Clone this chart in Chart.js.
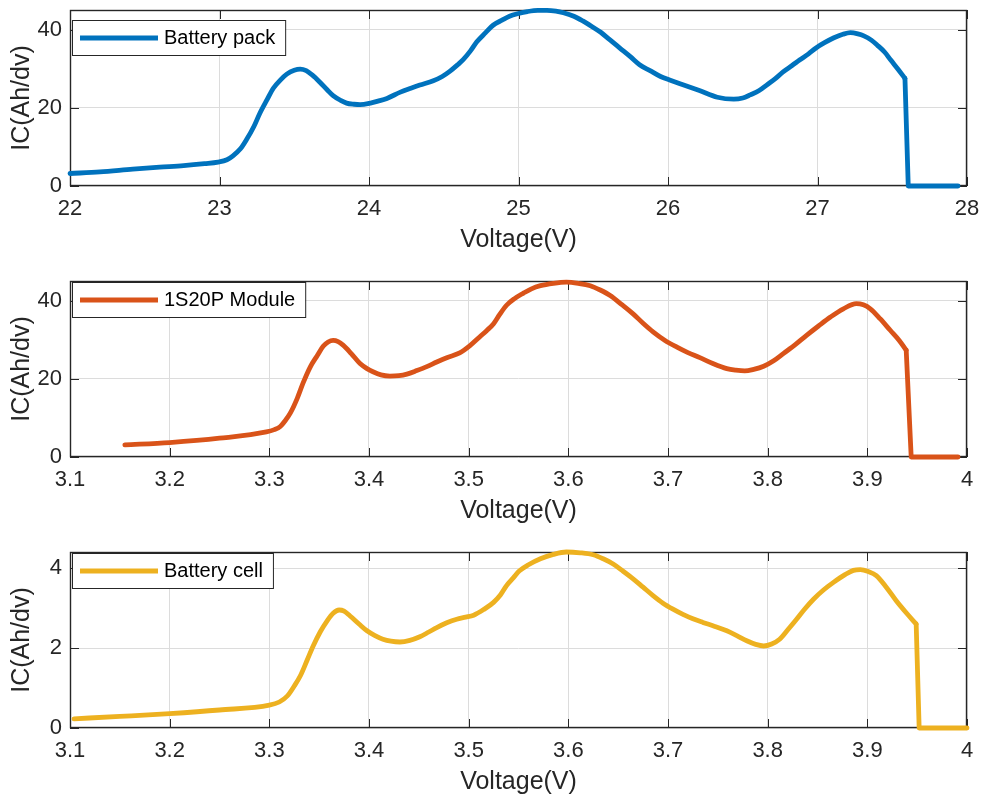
<!DOCTYPE html>
<html><head><meta charset="utf-8">
<script src="https://cdn.jsdelivr.net/npm/chart.js@4.4.1/dist/chart.umd.min.js"></script>
<style>
html,body{margin:0;padding:0;background:#fff;overflow:hidden;}
#wrap{position:relative;width:985px;height:796px;overflow:hidden;background:#fff;}
canvas{position:absolute;left:0;}
</style></head><body>
<div id="wrap">
<canvas id="c1" width="985" height="271" style="top:0px"></canvas>
<canvas id="c2" width="985" height="271" style="top:271px"></canvas>
<canvas id="c3" width="985" height="271" style="top:542px"></canvas>
</div>
<script>
// ---------- data ----------
const packLabel = 'Battery pack';
const packV = [22.00,22.20,22.42,22.60,22.76,22.90,22.99,23.05,23.09,23.14,23.18,23.23,23.27,23.32,23.36,23.41,23.45,23.50,23.54,23.58,23.62,23.67,23.72,23.76,23.81,23.85,23.90,23.94,24.01,24.06,24.12,24.21,24.28,24.34,24.43,24.49,24.54,24.59,24.63,24.68,24.72,24.78,24.83,24.89,24.94,25.00,25.06,25.13,25.19,25.25,25.30,25.37,25.43,25.49,25.55,25.61,25.68,25.75,25.81,25.88,25.95,26.02,26.10,26.21,26.33,26.44,26.50,26.55,26.61,26.66,26.72,26.77,26.83,26.88,26.94,26.99,27.05,27.11,27.17,27.22,27.27,27.31,27.36,27.40,27.45,27.49,27.54,27.585,27.607,27.94];
const packIC = [3.2,3.6,4.3,4.8,5.2,5.7,6.1,6.7,7.7,9.5,11.8,15.2,18.6,22.2,25.0,27.2,28.6,29.6,29.9,29.5,28.4,26.6,24.6,23.1,21.9,21.2,20.9,20.8,21.2,21.7,22.4,24.0,25.0,25.8,26.9,28.0,29.3,30.9,32.3,34.6,36.8,39.2,41.1,42.4,43.4,44.1,44.6,44.9,44.9,44.7,44.3,43.4,42.2,40.8,39.3,37.4,35.2,33.0,31.0,29.5,28.0,27.0,25.9,24.4,22.7,22.2,22.5,23.3,24.4,25.8,27.5,29.2,30.8,32.2,33.8,35.3,36.7,37.9,38.8,39.2,38.9,38.4,37.3,36.0,34.2,32.2,29.8,27.5,0,0];

const moduleLabel = '1S20P Module';
const moduleV = [3.155,3.20,3.25,3.297,3.305,3.311,3.316,3.321,3.328,3.334,3.341,3.348,3.354,3.359,3.364,3.369,3.374,3.382,3.391,3.398,3.404,3.412,3.421,3.430,3.438,3.448,3.458,3.468,3.478,3.491,3.501,3.511,3.518,3.525,3.531,3.538,3.546,3.555,3.563,3.572,3.585,3.598,3.610,3.622,3.632,3.642,3.653,3.665,3.675,3.685,3.697,3.709,3.720,3.732,3.745,3.759,3.768,3.777,3.786,3.796,3.806,3.816,3.828,3.839,3.851,3.863,3.876,3.889,3.896,3.903,3.913,3.923,3.932,3.939,3.944,3.991];
const moduleIC = [3.1,3.7,4.8,6.4,7.0,7.8,9.3,11.2,15.0,19.0,23.0,25.9,28.3,29.4,29.8,29.5,28.6,26.5,23.9,22.6,21.8,21.0,20.7,20.8,21.2,22.1,23.1,24.3,25.4,26.6,28.4,30.7,32.3,34.1,36.4,38.8,40.5,41.9,43.0,43.8,44.4,44.7,44.4,43.8,42.7,41.3,39.1,36.6,34.2,32.0,29.8,28.1,26.7,25.4,23.9,22.6,22.2,22.0,22.4,23.2,24.6,26.5,28.8,31.1,33.5,35.8,37.9,39.2,38.9,37.9,35.3,32.4,29.8,27.3,0,0];

const cellLabel = 'Battery cell';
const cellV = [3.104,3.15,3.20,3.25,3.30,3.31,3.318,3.325,3.331,3.338,3.344,3.351,3.358,3.364,3.370,3.375,3.381,3.39,3.398,3.406,3.414,3.422,3.431,3.441,3.451,3.46,3.468,3.478,3.488,3.497,3.505,3.515,3.525,3.532,3.538,3.545,3.551,3.56,3.572,3.585,3.598,3.612,3.625,3.635,3.645,3.655,3.665,3.675,3.685,3.695,3.705,3.715,3.725,3.735,3.747,3.759,3.769,3.779,3.788,3.796,3.804,3.812,3.82,3.829,3.837,3.846,3.856,3.866,3.878,3.886,3.893,3.901,3.909,3.919,3.929,3.939,3.949,3.952,4.0];
const cellIC = [0.23,0.29,0.36,0.45,0.57,0.65,0.80,1.05,1.30,1.70,2.05,2.40,2.68,2.87,2.95,2.92,2.80,2.60,2.43,2.31,2.22,2.17,2.15,2.19,2.28,2.40,2.51,2.63,2.72,2.77,2.82,2.96,3.14,3.33,3.56,3.76,3.93,4.08,4.23,4.34,4.40,4.38,4.33,4.23,4.10,3.92,3.73,3.52,3.31,3.12,2.97,2.84,2.73,2.64,2.54,2.43,2.31,2.18,2.09,2.05,2.10,2.22,2.45,2.72,2.97,3.22,3.45,3.64,3.84,3.94,3.96,3.91,3.81,3.52,3.18,2.88,2.60,0,0];

const packXTicks = [22,23,24,25,26,27,28];
const packXTickLabels = ['22','23','24','25','26','27','28'];
const cellXTicks = [3.1,3.2,3.3,3.4,3.5,3.6,3.7,3.8,3.9,4.0];
const cellXTickLabels = ['3.1','3.2','3.3','3.4','3.5','3.6','3.7','3.8','3.9','4'];
const bigYTicks = [0,20,40];
const bigYTickLabels = ['0','20','40'];
const smallYTicks = [0,2,4];
const smallYTickLabels = ['0','2','4'];
const xTitle = 'Voltage(V)';
const yTitle = 'IC(Ah/dv)';

// ---------- style ----------
const FONT = '"Liberation Sans", Arial, Helvetica, sans-serif';
const AXC = '#262626';
const GRIDC = '#dcdcdc';

const matlabAxes = {
  id: 'matlabAxes',
  beforeDatasetsDraw(chart, args, opts) {
    const {ctx, chartArea: {left, top, right, bottom}, scales: {x, y}} = chart;
    const L = 9;
    ctx.save();
    ctx.strokeStyle = AXC;
    ctx.lineWidth = 1;
    ctx.beginPath();
    x.ticks.forEach(t => {
      const px = Math.round(x.getPixelForValue(t.value)) + 0.5;
      ctx.moveTo(px, bottom); ctx.lineTo(px, bottom - L);
      ctx.moveTo(px, top); ctx.lineTo(px, top + L);
    });
    y.ticks.forEach(t => {
      const py = Math.round(y.getPixelForValue(t.value)) + 0.5;
      ctx.moveTo(left, py); ctx.lineTo(left + L, py);
      ctx.moveTo(right, py); ctx.lineTo(right - L, py);
    });
    ctx.stroke();
    ctx.lineWidth = 1.4;
    ctx.strokeRect(left + 0.5, top + 0.5, right - left - 1, bottom - top - 1);
    ctx.restore();
  },
  afterDraw(chart, args, opts) {
    const {ctx, chartArea: {left, top}} = chart;
    const ds = chart.data.datasets[0];
    ctx.save();
    ctx.font = '20px ' + FONT;
    const tw = ctx.measureText(ds.label).width;
    const bx = left + 2, by = top + (opts.legendOffset || 0), bh = 35;
    const bw = 92 + tw + 10;
    ctx.fillStyle = '#fff';
    ctx.fillRect(bx, by, bw, bh);
    ctx.strokeStyle = AXC; ctx.lineWidth = 1;
    ctx.strokeRect(bx + 0.5, by + 0.5, bw, bh);
    ctx.strokeStyle = ds.borderColor; ctx.lineWidth = 5; ctx.lineCap = 'butt';
    ctx.beginPath();
    ctx.moveTo(bx + 8, by + bh / 2 + 0.5); ctx.lineTo(bx + 86, by + bh / 2 + 0.5);
    ctx.stroke();
    ctx.fillStyle = '#000';
    ctx.textBaseline = 'middle'; ctx.textAlign = 'left';
    ctx.fillText(ds.label, bx + 92, by + bh / 2 + 1);
    ctx.restore();
  }
};

function makeChart(id, label, xs, ys, color, xmin, xmax, xTicks, xLabels, ymax, yTicks, yLabels, legendOffset) {
  const pts = xs.map((v, i) => ({x: v, y: ys[i]}));
  const n = pts.length;
  const curve = pts.slice(0, n - 2);      // smooth part up to the cut-off
  const tail = pts.slice(n - 3);          // sharp drop and zero plateau
  const common = { borderColor: color, backgroundColor: color, borderWidth: 4.8, pointRadius: 0,
                   fill: false, borderJoinStyle: 'round', borderCapStyle: 'round', clip: false };
  return new Chart(document.getElementById(id), {
    type: 'line',
    data: { datasets: [
      Object.assign({ label: label, data: curve, cubicInterpolationMode: 'monotone' }, common),
      Object.assign({ label: label + ' cut-off', data: tail, tension: 0 }, common)
    ]},
    options: {
      responsive: false, animation: false, devicePixelRatio: 1,
      layout: { padding: { top: 10, right: 18, left: 0, bottom: 12 } },
      plugins: { legend: { display: false }, tooltip: { enabled: false },
                 matlabAxes: { legendOffset: legendOffset } },
      scales: {
        x: {
          type: 'linear', position: 'bottom', min: xmin, max: xmax,
          grid: { color: GRIDC, lineWidth: 1, drawTicks: false },
          border: { display: false },
          afterBuildTicks: s => { s.ticks = xTicks.map(v => ({value: v})); },
          ticks: { font: { size: 22, family: FONT }, color: AXC, padding: 10, maxRotation: 0, autoSkip: false,
                   callback: (v, i) => xLabels[i] },
          title: { display: true, text: xTitle, font: { size: 25, family: FONT }, color: AXC,
                   padding: { top: 0, bottom: 4 } },
          afterFit: s => { s.height = 73; s.paddingLeft = 0; s.paddingRight = 0; }
        },
        y: {
          type: 'linear', position: 'left', min: 0, max: ymax,
          grid: { color: GRIDC, lineWidth: 1, drawTicks: false },
          border: { display: false },
          afterBuildTicks: s => { s.ticks = yTicks.map(v => ({value: v})); },
          ticks: { font: { size: 22, family: FONT }, color: AXC, padding: 8,
                   callback: (v, i) => yLabels[i] },
          title: { display: true, text: yTitle, font: { size: 25, family: FONT }, color: AXC,
                   padding: { top: 7.5, bottom: 0 } },
          afterFit: s => { s.width = 70; s.paddingTop = 0; s.paddingBottom = 0; }
        }
      }
    },
    plugins: [matlabAxes]
  });
}

makeChart('c1', packLabel, packV, packIC, '#0072BD', 22, 28, packXTicks, packXTickLabels, 45, bigYTicks, bigYTickLabels, 10);
makeChart('c2', moduleLabel, moduleV, moduleIC, '#D95319', 3.1, 4.0, cellXTicks, cellXTickLabels, 45, bigYTicks, bigYTickLabels, 1);
makeChart('c3', cellLabel, cellV, cellIC, '#EDB120', 3.1, 4.0, cellXTicks, cellXTickLabels, 4.4, smallYTicks, smallYTickLabels, 1);
</script>
</body></html>
